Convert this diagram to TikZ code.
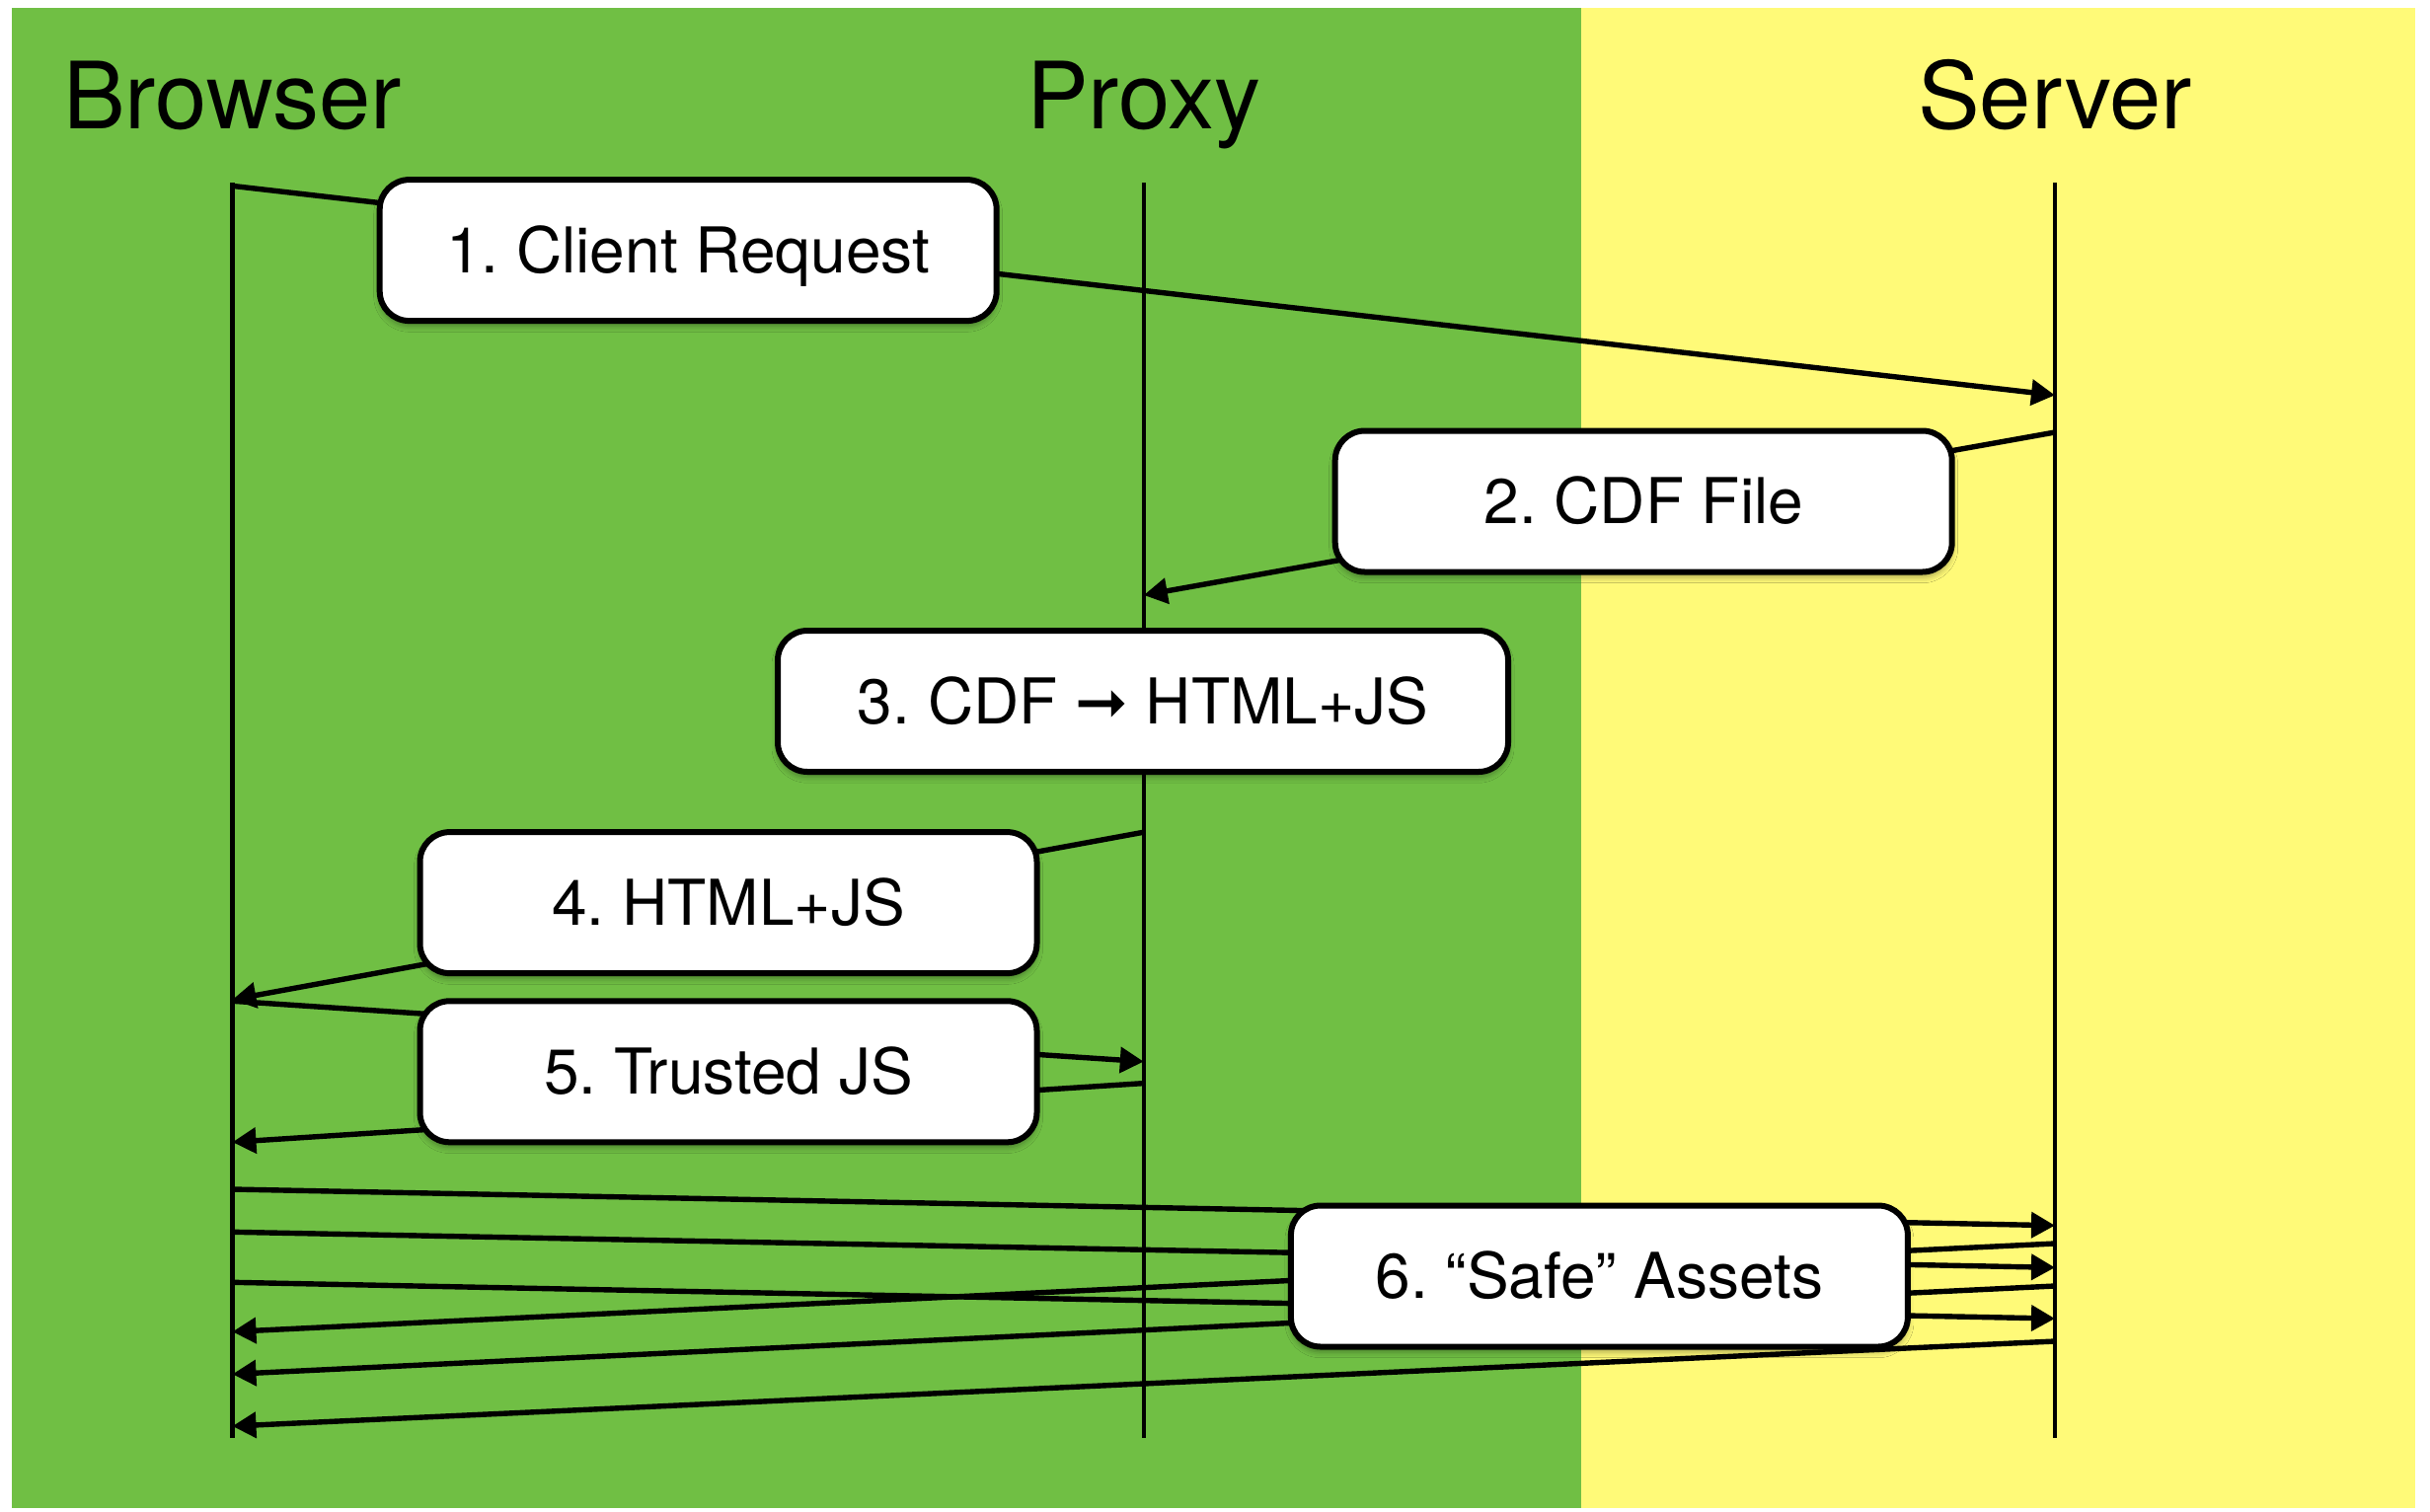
\documentclass[tikz,border=0pt]{standalone}
\usepackage{fontspec}
\setmainfont{TeX Gyre Heros}
\newfontfamily\symfont{DejaVu Sans}
\usetikzlibrary{arrows.meta,shadows.blur}
\definecolor{clientgreen}{HTML}{70BF44}
\definecolor{serveryellow}{HTML}{FFFA78}
\frenchspacing

\begin{document}
\begin{tikzpicture}[x=0.25pt,y=-0.25pt,
  lifeline/.style={line width=1.1pt},
  msg/.style={line width=1.35pt,-{Triangle[length=6pt,width=6.4pt]}},
  actor/.style={font=\fontsize{23.5pt}{28pt}\selectfont,anchor=base,inner sep=0pt},
  stepbox/.style={draw,line width=1.5pt,fill=white,rounded corners=7.5pt,
    minimum width=156.25pt,minimum height=35.75pt,
    font=\fontsize{16pt}{19pt}\selectfont,text height=11.3pt,text depth=0pt,inner sep=0pt,
    blur shadow={shadow xshift=0pt,shadow yshift=-1.3pt,shadow blur radius=1.5pt,shadow opacity=35}},
]
% canvas and the two zones
\useasboundingbox (0,0) rectangle (2462,1531);
\fill[white] (0,0) rectangle (2462,1531);
\fill[clientgreen] (12,8) rectangle (1602,1528);
\fill[serveryellow] (1602,8) rectangle (2447,1528);

% participants
\node[actor] (browser) at (235.5,130) {Browser};
\node[actor] (proxy) at (1158.8,130) {Proxy};
\node[actor] (server) at (2082,130) {Server};

% lifelines
\coordinate (bTop) at (235.5,185);  \coordinate (bBot) at (235.5,1457);
\coordinate (pTop) at (1158.8,185); \coordinate (pBot) at (1158.8,1457);
\coordinate (sTop) at (2082,185);   \coordinate (sBot) at (2082,1457);
\draw[lifeline] (bTop) -- (bBot);
\draw[lifeline] (pTop) -- (pBot);
\draw[lifeline] (sTop) -- (sBot);

% message end points on the lifelines
\coordinate (m1s) at (235.5,188.4);  \coordinate (m1e) at (2082,400.4);
\coordinate (m2s) at (2082,438);     \coordinate (m2e) at (1158.8,603);
\coordinate (m4s) at (1158.8,843.2); \coordinate (m4e) at (235.5,1012.8);
\coordinate (m5as) at (235.5,1014.3); \coordinate (m5ae) at (1158.8,1075.6);
\coordinate (m5bs) at (1158.8,1097.6); \coordinate (m5be) at (235.5,1157.2);
\coordinate (m6as) at (235.5,1205);   \coordinate (m6ae) at (2082,1241.7);
\coordinate (m6bs) at (235.5,1248.3); \coordinate (m6be) at (2082,1284.3);
\coordinate (m6cs) at (235.5,1299.3); \coordinate (m6ce) at (2082,1336);
\coordinate (m6ds) at (2082,1260);    \coordinate (m6de) at (235.5,1349.3);
\coordinate (m6es) at (2082,1303);    \coordinate (m6ee) at (235.5,1392.3);
\coordinate (m6fs) at (2082,1359);    \coordinate (m6fe) at (235.5,1445);

% messages
\draw[msg] (m1s) -- (m1e);
\draw[msg] (m2s) -- (m2e);
\draw[msg] (m4s) -- (m4e);
\draw[msg] (m5as) -- (m5ae);
\draw[msg] (m5bs) -- (m5be);
\draw[msg] (m6as) -- (m6ae);
\draw[msg] (m6bs) -- (m6be);
\draw[msg] (m6cs) -- (m6ce);
\draw[msg] (m6ds) -- (m6de);
\draw[msg] (m6es) -- (m6ee);
\draw[msg] (m6fs) -- (m6fe);

% step labels
\node[stepbox] (req) at (697.2,253.6) {1. Client Request};
\node[stepbox] (cdf) at (1665.2,508) {2. CDF File};
\node[stepbox,minimum width=185pt] (conv) at (1158,710.5) {3. CDF {\symfont ➞} HTML+JS};
\node[stepbox] (html) at (738,914.6) {4. HTML+JS};
\node[stepbox] (trusted) at (738,1085.8) {5. Trusted JS};
\node[stepbox] (assets) at (1620.4,1293) {6. “Safe” Assets};
\end{tikzpicture}
\end{document}
